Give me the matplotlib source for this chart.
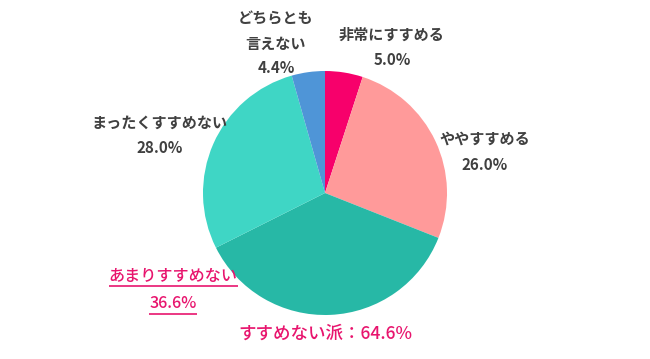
import matplotlib
matplotlib.use("Agg")
import matplotlib.pyplot as plt

plt.rcParams['font.family'] = ['Noto Sans CJK JP', 'DejaVu Sans']

categories = ["非常にすすめる", "ややすすめる", "あまりすすめない", "まったくすすめない", "どちらとも\n言えない"]
values = [5.0, 26.0, 36.6, 28.0, 4.4]
colors = ["#F7006B", "#FF9A9A", "#27B8A6", "#3FD6C5", "#4F95D7"]
summary = "すすめない派：64.6%"

W, H = 650, 359
fig = plt.figure(figsize=(6.5, 3.59), dpi=100)
ax = fig.add_axes([0, 0, 1, 1])

cx, cy, r = 325, H - 193, 122
ax.pie(values, colors=colors, startangle=90, counterclock=False,
       center=(cx, cy), radius=r, frame=True,
       wedgeprops=dict(linewidth=0))
ax.set_xlim(0, W)
ax.set_ylim(0, H)
ax.set_aspect('equal')
ax.axis('off')

dark = "#404040"
pink = "#E8156E"
fs = 10.9

def lab(x, y, s, color=dark, size=fs, weight='bold'):
    return ax.text(x, H - y, s, ha='center', va='center', fontsize=size,
                   color=color, fontweight=weight)

lab(276, 19, "どちらとも")
lab(276, 44, "言えない")
lab(276, 68, f"{values[4]:.1f}%")
lab(392, 35, categories[0])
lab(392, 60, f"{values[0]:.1f}%")
lab(485, 139, categories[1])
lab(485, 165, f"{values[1]:.1f}%")
lab(160, 123, categories[3])
lab(160, 148, f"{values[3]:.1f}%")
u1 = lab(173, 276, categories[2], color=pink, size=11.6, weight='medium')
u2 = lab(173, 304, f"{values[2]:.1f}%", color=pink, size=11.6, weight='medium')
lab(325, 334, summary, color=pink, size=12.6, weight='medium')

fig.canvas.draw()
rend = fig.canvas.get_renderer()
inv = ax.transData.inverted()
for t in (u1, u2):
    bb = t.get_window_extent(rend)
    (x0, y0), (x1, _) = inv.transform([(bb.x0, bb.y0), (bb.x1, bb.y1)])
    ax.plot([x0, x1], [y0 - 1, y0 - 1], color=pink, lw=1.2, solid_capstyle='butt')

fig.savefig("out.png", dpi=100)
